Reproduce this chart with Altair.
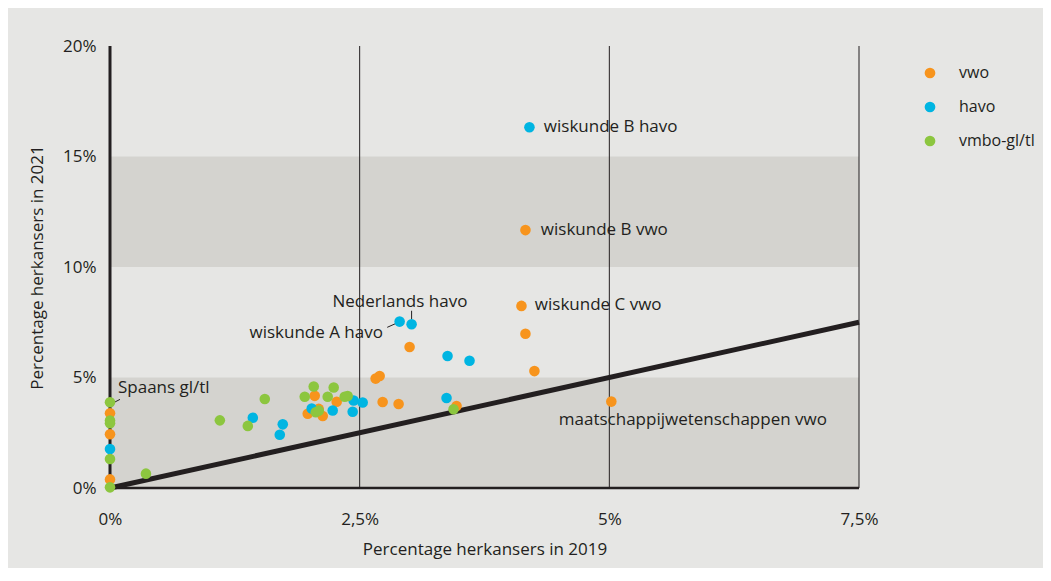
import altair as alt
import pandas as pd

# ---------------- data ----------------
groups = ["vwo", "havo", "vmbo-gl/tl"]
colors = ["#f7941d", "#00b5e2", "#8cc63f"]

vwo_x = [0, 0, 0, 2.05, 2.27, 1.98, 2.09, 2.13, 2.73, 2.66, 2.70, 2.89, 3.00, 3.47, 4.12, 4.16, 4.25, 5.02, 4.16]
vwo_y = [3.38, 2.43, 0.39, 4.17, 3.90, 3.36, 3.58, 3.26, 3.89, 4.95, 5.07, 3.80, 6.38, 3.71, 8.24, 6.98, 5.29, 3.91, 11.67]

havo_x = [0, 1.43, 1.73, 1.70, 2.44, 2.53, 2.43, 2.23, 2.02, 2.90, 3.02, 3.38, 3.60, 3.37, 4.20]
havo_y = [1.76, 3.18, 2.88, 2.41, 3.96, 3.87, 3.45, 3.51, 3.60, 7.53, 7.41, 5.97, 5.76, 4.07, 16.32]

vmbo_x = [0, 0, 0, 0, 0, 0.36, 1.10, 1.38, 1.55, 2.04, 1.95, 2.24, 2.18, 2.38, 2.35, 2.06, 2.09, 3.44]
vmbo_y = [3.88, 3.05, 2.93, 1.31, 0.03, 0.65, 3.06, 2.81, 4.03, 4.59, 4.13, 4.55, 4.13, 4.16, 4.13, 3.43, 3.50, 3.56]

x_ticks = [0, 2.5, 5, 7.5]
y_ticks = [0, 5, 10, 15, 20]
band_lo = [0, 10]
band_hi = [5, 15]
vlines = [2.5, 5, 7.5]
diag_x = [0, 7.5]
diag_y = [0, 7.5]

lab_left_text = ["wiskunde B havo", "wiskunde B vwo", "wiskunde C vwo", "Spaans gl/tl", "maatschappijwetenschappen vwo"]
lab_left_x = [4.344, 4.314, 4.254, 0.080, 4.494]
lab_left_y = [16.33, 11.67, 8.28, 4.52, 3.08]
lab_center_text = ["Nederlands havo"]
lab_center_x = [2.903]
lab_center_y = [8.42]
lab_right_text = ["wiskunde A havo"]
lab_right_x = [2.733]
lab_right_y = [7.01]

lead_x = [3.02, 2.776, 0.023]
lead_y = [7.63, 7.27, 3.83]
lead_x2 = [3.02, 2.89, 0.10]
lead_y2 = [8.02, 7.50, 4.01]

# ---------------- frames ----------------
points = pd.concat([
    pd.DataFrame({"x": vwo_x, "y": vwo_y, "g": "vwo"}),
    pd.DataFrame({"x": havo_x, "y": havo_y, "g": "havo"}),
    pd.DataFrame({"x": vmbo_x, "y": vmbo_y, "g": "vmbo-gl/tl"}),
], ignore_index=True)
points["order"] = range(len(points))

bands = pd.DataFrame({"x": [0] * len(band_lo), "x2": [x_ticks[-1]] * len(band_lo), "y": band_lo, "y2": band_hi})
vl = pd.DataFrame({"x": vlines, "y": [y_ticks[0]] * len(vlines), "y2": [y_ticks[-1]] * len(vlines)})
yaxis_line = pd.DataFrame({"x": [0], "y": [y_ticks[0]], "y2": [y_ticks[-1]]})
xaxis_line = pd.DataFrame({"x": [x_ticks[0]], "x2": [x_ticks[-1]], "y": [0]})
diag = pd.DataFrame({"x": diag_x, "y": diag_y})
leads = pd.DataFrame({"x": lead_x, "y": lead_y, "x2": lead_x2, "y2": lead_y2})
lab_l = pd.DataFrame({"x": lab_left_x, "y": lab_left_y, "t": lab_left_text})
lab_c = pd.DataFrame({"x": lab_center_x, "y": lab_center_y, "t": lab_center_text})
lab_r = pd.DataFrame({"x": lab_right_x, "y": lab_right_y, "t": lab_right_text})

FONT = "Open Sans"
INK = "#231f20"
FS = 17

xscale = alt.Scale(domain=[0, 7.5], nice=False, zero=False)
yscale = alt.Scale(domain=[0, 20], nice=False, zero=False)

xaxis = alt.Axis(values=x_ticks, labelExpr="replace(datum.value + '', '.', ',') + '%'",
                 domain=False, ticks=False, grid=False, labelPadding=23, titlePadding=14,
                 labelFlush=False, labelOverlap=False, labelFont=FONT, labelFontSize=FS,
                 labelColor=INK, titleFont=FONT, titleFontSize=FS, titleFontWeight="normal",
                 titleColor=INK)
yaxis = alt.Axis(values=y_ticks, labelExpr="datum.value + '%'",
                 domain=False, ticks=False, grid=False, labelPadding=14, titlePadding=16,
                 labelFlush=False, labelOverlap=False, labelFont=FONT, labelFontSize=FS,
                 labelColor=INK, titleFont=FONT, titleFontSize=FS, titleFontWeight="normal",
                 titleColor=INK)

XT = "Percentage herkansers in 2019"
YT = "Percentage herkansers in 2021"


def X(f="x"):
    return alt.X(f"{f}:Q", scale=xscale, axis=xaxis, title=XT)


def Y(f="y"):
    return alt.Y(f"{f}:Q", scale=yscale, axis=yaxis, title=YT)


band_layer = alt.Chart(bands).mark_rect(color="#d4d3cf").encode(
    x=X(), x2="x2:Q", y=Y(), y2="y2:Q")
vline_layer = alt.Chart(vl).mark_rule(color=INK, strokeWidth=1).encode(
    x=X(), y=Y(), y2="y2:Q")
yline_layer = alt.Chart(yaxis_line).mark_rule(color=INK, strokeWidth=3).encode(
    x=X(), y=Y(), y2="y2:Q")
xline_layer = alt.Chart(xaxis_line).mark_rule(color=INK, strokeWidth=2.5).encode(
    x=X(), x2="x2:Q", y=Y())
diag_layer = alt.Chart(diag).mark_line(color=INK, strokeWidth=5).encode(x=X(), y=Y())
lead_layer = alt.Chart(leads).mark_rule(color=INK, strokeWidth=1).encode(
    x=X(), y=Y(), x2="x2:Q", y2="y2:Q")

point_layer = alt.Chart(points).mark_circle(size=112, opacity=1).encode(
    x=X(), y=Y(),
    order="order:Q",
    color=alt.Color("g:N", scale=alt.Scale(domain=groups, range=colors),
                    legend=alt.Legend(orient="none", legendX=812, legendY=19, title=None,
                                      symbolType="circle", symbolSize=115, symbolOpacity=1,
                                      labelFont=FONT, labelFontSize=16, labelColor=INK,
                                      labelOffset=21, rowPadding=18, padding=0)))


def text_layer(df, align):
    return alt.Chart(df).mark_text(align=align, baseline="middle", font=FONT, fontSize=FS,
                                   color=INK).encode(x=X(), y=Y(), text="t:N")


chart = alt.layer(
    band_layer, vline_layer, yline_layer, xline_layer, diag_layer, lead_layer,
    point_layer,
    text_layer(lab_l, "left"), text_layer(lab_c, "center"), text_layer(lab_r, "right"),
).properties(
    width=749, height=442,
    autosize=alt.AutoSizeParams(type="none"),
    padding={"left": 102, "top": 38, "right": 184, "bottom": 80},
    background="#e6e6e4",
).configure_view(stroke=None)

chart.save("out.html", embed_options={"renderer": "svg", "actions": False})
